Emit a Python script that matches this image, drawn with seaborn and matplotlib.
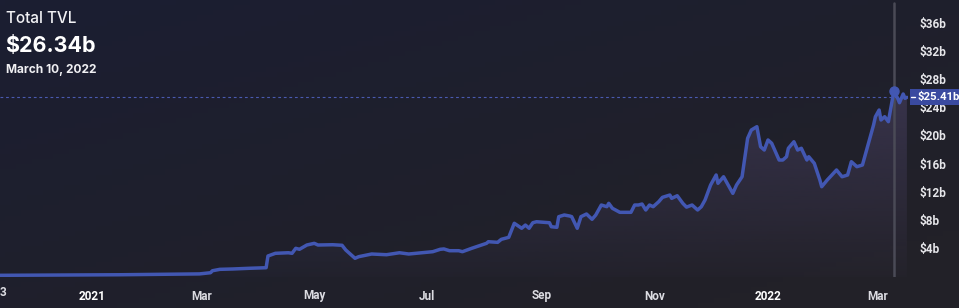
import matplotlib
matplotlib.use("Agg")
import matplotlib.pyplot as plt
import matplotlib.dates as mdates
from matplotlib.patches import Rectangle
from matplotlib.lines import Line2D
import numpy as np
import pandas as pd
import seaborn as sns

# ---------------- data ----------------
dates = [
    "2020-11-12", "2020-12-15", "2021-01-16", "2021-02-17", "2021-02-28",
    "2021-03-06", "2021-03-07", "2021-03-11", "2021-03-18", "2021-03-27",
    "2021-04-05", "2021-04-06", "2021-04-10", "2021-04-17", "2021-04-19",
    "2021-04-21", "2021-04-23", "2021-04-27", "2021-05-01", "2021-05-03",
    "2021-05-11", "2021-05-16", "2021-05-18", "2021-05-23", "2021-05-25",
    "2021-06-01", "2021-06-09", "2021-06-16", "2021-06-21", "2021-07-04",
    "2021-07-08", "2021-07-10", "2021-07-13", "2021-07-18", "2021-07-20",
    "2021-07-25", "2021-08-02", "2021-08-03", "2021-08-08", "2021-08-10",
    "2021-08-14", "2021-08-17", "2021-08-21", "2021-08-23", "2021-08-25",
    "2021-08-27", "2021-08-29", "2021-09-05", "2021-09-06", "2021-09-09",
    "2021-09-10", "2021-09-13", "2021-09-16", "2021-09-17", "2021-09-20",
    "2021-09-22", "2021-09-25", "2021-09-28", "2021-09-30", "2021-10-03",
    "2021-10-06", "2021-10-07", "2021-10-09", "2021-10-13", "2021-10-19",
    "2021-10-21", "2021-10-23", "2021-10-25", "2021-10-27", "2021-10-29",
    "2021-10-31", "2021-11-03", "2021-11-05", "2021-11-09", "2021-11-10",
    "2021-11-13", "2021-11-16", "2021-11-18", "2021-11-21", "2021-11-24",
    "2021-11-26", "2021-11-28", "2021-12-01", "2021-12-04", "2021-12-05",
    "2021-12-08", "2021-12-11", "2021-12-13", "2021-12-15", "2021-12-18",
    "2021-12-21", "2021-12-23", "2021-12-26", "2021-12-28", "2021-12-30",
    "2022-01-01", "2022-01-03", "2022-01-07", "2022-01-09", "2022-01-11",
    "2022-01-12", "2022-01-15", "2022-01-17", "2022-01-19", "2022-01-22",
    "2022-01-23", "2022-01-26", "2022-01-29", "2022-01-30", "2022-02-02",
    "2022-02-07", "2022-02-10", "2022-02-13", "2022-02-15", "2022-02-18",
    "2022-02-21", "2022-02-26", "2022-02-27", "2022-02-28", "2022-03-02",
    "2022-03-03", "2022-03-05", "2022-03-07", "2022-03-10", "2022-03-12",
    "2022-03-13", "2022-03-15", "2022-03-16", "2022-03-17",
]
tvl_b = [
    0.10, 0.14, 0.18, 0.26, 0.30,
    0.47, 0.75, 0.95, 1.00, 1.10,
    1.18, 2.85, 3.23, 3.31, 3.23,
    3.94, 3.80, 4.41, 4.65, 4.41,
    4.45, 4.37, 3.70, 2.52, 2.75,
    3.13, 3.03, 3.31, 3.13, 3.46,
    3.80, 3.85, 3.60, 3.60, 3.46,
    3.94, 4.65, 4.88, 4.79, 5.22,
    5.50, 7.50, 6.79, 7.25, 6.79,
    7.58, 7.72, 7.58, 7.01, 6.93,
    8.44, 8.68, 8.53, 8.44, 6.79,
    8.44, 8.82, 8.07, 8.68, 10.10,
    9.86, 10.34, 9.63, 9.06, 9.06,
    10.10, 10.10, 10.24, 9.39, 10.10,
    9.86, 10.57, 11.19, 11.52, 11.05,
    11.42, 10.34, 9.80, 10.10, 9.39,
    9.86, 10.81, 12.94, 14.37, 13.19,
    14.12, 12.70, 11.76, 12.94, 14.12,
    19.59, 20.77, 21.24, 18.39, 17.92,
    19.35, 18.88, 16.50, 16.50, 16.97,
    18.17, 19.10, 17.92, 18.17, 16.50,
    16.97, 16.03, 13.66, 12.70, 13.66,
    15.08, 14.12, 14.37, 16.26, 15.55,
    15.79, 20.53, 21.48, 22.66, 23.61,
    22.19, 22.66, 21.95, 26.34, 25.28,
    24.65, 25.89, 25.28, 25.41,
]
ytick_vals = [4, 8, 12, 16, 20, 24, 28, 32, 36]
ytick_labels = ["$4b", "$8b", "$12b", "$16b", "$20b", "$24b", "$28b", "$32b", "$36b"]
xtick_dates = ["2021-01-01", "2021-03-01", "2021-05-01", "2021-07-01",
               "2021-09-01", "2021-11-01", "2022-01-01", "2022-03-01"]
xtick_labels = ["2021", "Mar", "May", "Jul", "Sep", "Nov", "2022", "Mar"]
title = "Total TVL"
headline = "$26.34b"
headline_date = "March 10, 2022"
hover_date = "2022-03-10"
hover_value = 26.34
last_value = 25.41
last_label = "$25.41b"

df = pd.DataFrame({"date": pd.to_datetime(dates), "tvl": tvl_b})

# ---------------- figure ----------------
W, H = 959, 308
sns.set_theme(style="dark")
plt.rcParams["font.family"] = ["Inter", "DejaVu Sans"]
tick_font = ["Roboto", "DejaVu Sans"]

fig = plt.figure(figsize=(W / 100, H / 100), dpi=100)

# background gradient
bg_ax = fig.add_axes([0, 0, 1, 1], zorder=-10)
bg_ax.axis("off")
c_tl = np.array([27, 30, 50]) / 255
c_br = np.array([34, 33, 40]) / 255
yy, xx = np.mgrid[0:1:60j, 0:1:180j]
t = np.clip(0.55 * xx + 0.6 * yy, 0, 1)[..., None]
bg = c_tl * (1 - t) + c_br * t
bg_ax.imshow(bg, extent=[0, 1, 0, 1], aspect="auto", origin="upper")
bg_ax.set_xlim(0, 1)
bg_ax.set_ylim(0, 1)

def fx(px):
    return px / W

def fy(py):
    return 1 - py / H

ax_left, ax_right, ax_top, ax_bot = 0, 908, 0, 277
ax = fig.add_axes([fx(ax_left), fy(ax_bot), fx(ax_right - ax_left), (ax_bot - ax_top) / H])
ax.patch.set_alpha(0)

line_col = "#4257b2"

base = mdates.date2num(pd.Timestamp("2021-01-01"))
xmin = base - 49.7
xmax = base + 440.6
ymin, ymax = -0.14, 39.26

# gradient fill under the curve
xnum = mdates.date2num(df["date"])
poly = ax.fill_between(xnum, df["tvl"], ymin, color="none", lw=0)
grad_n = 256
gcol = np.zeros((grad_n, 1, 4))
gcol[..., 0] = 72 / 255
gcol[..., 1] = 64 / 255
gcol[..., 2] = 96 / 255
gcol[:, 0, 3] = np.linspace(0.05, 0.65, grad_n)
img = ax.imshow(gcol, extent=[xmin, xmax, ymin, 28], aspect="auto", origin="lower", zorder=1)
img.set_clip_path(poly.get_paths()[0], transform=ax.transData)

# cursor line
ax.axvline(mdates.date2num(pd.Timestamp(hover_date)), ymin=0, ymax=0.99,
           color="#4a4a56", lw=1.8, zorder=2)

# main line
sns.lineplot(data=df, x="date", y="tvl", ax=ax, color=line_col, lw=2.5, zorder=3)

# last-value dashed line
ax.axhline(last_value, color="#4a5ab0", lw=0.8, ls=(0, (2.5, 2.5)), zorder=2)

# hover marker
ax.plot([pd.Timestamp(hover_date)], [hover_value], "o", ms=6.5, color=line_col, zorder=4)

ax.set_xlim(xmin, xmax)
ax.set_ylim(ymin, ymax)
for s in ax.spines.values():
    s.set_visible(False)
ax.grid(False)
ax.set_xlabel("")
ax.set_ylabel("")

# y ticks right
ax.yaxis.tick_right()
ax.set_yticks(ytick_vals)
ax.set_yticklabels(ytick_labels)
ax.tick_params(axis="y", length=0, pad=8, labelsize=8.5, labelcolor="#e6e6ea")
for lab in ax.get_yticklabels():
    lab.set_fontweight("bold")
    lab.set_family(tick_font)

# x ticks
ax.set_xticks(mdates.date2num(pd.to_datetime(xtick_dates)))
ax.set_xticklabels(xtick_labels)
ax.tick_params(axis="x", length=0, pad=9, labelsize=8.5, labelcolor="#dcdce2")
for lab in ax.get_xticklabels():
    lab.set_fontweight("bold")
    lab.set_family(tick_font)
    if lab.get_text().isdigit():
        lab.set_color("#ffffff")

# clipped label at the left edge
fig.text(fx(3), fy(292), "3", ha="center", va="center", fontsize=8.5,
         fontweight="bold", color="#dcdce2", family=tick_font)

# last value box
fig.patches.append(Rectangle((fx(910), fy(105)), fx(49), 16 / H,
                             transform=fig.transFigure, facecolor="#3a4aa0",
                             edgecolor="none", zorder=5))
fig.lines.append(Line2D([fx(911), fx(915)], [fy(97), fy(97)], transform=fig.transFigure,
                        color="#ffffff", lw=1.0, zorder=6))
fig.text(fx(918), fy(97), last_label, ha="left", va="center", fontsize=8.2,
         fontweight="bold", color="#ffffff", zorder=7, family=tick_font)

# header
fig.text(fx(6), fy(23), title, ha="left", va="baseline", fontsize=11,
         color="#f2f2f5", fontweight="medium")
fig.text(fx(5), fy(52), headline, ha="left", va="baseline", fontsize=15.5,
         color="#ffffff", fontweight="bold")
fig.text(fx(6), fy(73), headline_date, ha="left", va="baseline", fontsize=8.6,
         color="#f0f0f3", fontweight="bold")

fig.savefig("out.png", dpi=100, facecolor=fig.get_facecolor())
